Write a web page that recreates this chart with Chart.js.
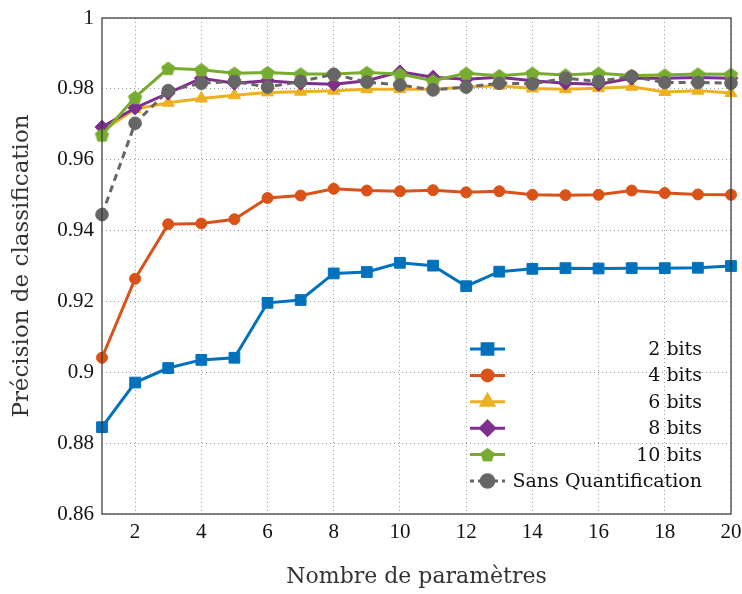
<!DOCTYPE html>
<html>
<head>
<meta charset="utf-8">
<script src="https://cdn.jsdelivr.net/npm/chart.js@4/dist/chart.umd.min.js"></script>
<style>
  html, body { margin: 0; padding: 0; background: #fff; }
  #wrap { width: 742px; height: 594px; }
</style>
</head>
<body>
<div id="wrap"><canvas id="chart" width="742" height="594"></canvas></div>
<script>
// données
const params = [1, 2, 3, 4, 5, 6, 7, 8, 9, 10, 11, 12, 13, 14, 15, 16, 17, 18, 19, 20];
const bits2 = [0.8845, 0.8971, 0.9012, 0.9035, 0.9041, 0.9196, 0.9204, 0.9279, 0.9283, 0.9309,
               0.9301, 0.9243, 0.9284, 0.9292, 0.9294, 0.9293, 0.9294, 0.9294, 0.9295, 0.9300];
const bits4 = [0.9041, 0.9264, 0.9418, 0.9420, 0.9432, 0.9492, 0.9499, 0.9518, 0.9513, 0.9511,
               0.9514, 0.9508, 0.9511, 0.9501, 0.9500, 0.9501, 0.9513, 0.9506, 0.9502, 0.9501];
const bits6 = [0.9680, 0.9743, 0.9761, 0.9773, 0.9782, 0.9790, 0.9792, 0.9795, 0.9799, 0.9799,
               0.9799, 0.9805, 0.9809, 0.9801, 0.9799, 0.9802, 0.9806, 0.9791, 0.9795, 0.9788];
const bits8 = [0.9692, 0.9746, 0.9788, 0.9830, 0.9816, 0.9823, 0.9816, 0.9813, 0.9823, 0.9848,
               0.9833, 0.9827, 0.9833, 0.9823, 0.9816, 0.9813, 0.9830, 0.9830, 0.9832, 0.9830];
const bits10 = [0.9670, 0.9776, 0.9858, 0.9854, 0.9844, 0.9846, 0.9842, 0.9842, 0.9846, 0.9842,
                0.9823, 0.9844, 0.9837, 0.9844, 0.9839, 0.9844, 0.9838, 0.9839, 0.9842, 0.9841];
const sansQuant = [0.9445, 0.9703, 0.9795, 0.9816, 0.9821, 0.9805, 0.9821, 0.9841, 0.9819, 0.9811,
                   0.9797, 0.9805, 0.9816, 0.9814, 0.9830, 0.9821, 0.9835, 0.9818, 0.9818, 0.9816];
const seriesNames = ["2 bits", "4 bits", "6 bits", "8 bits", "10 bits", "Sans Quantification"];
const xTicks = [2, 4, 6, 8, 10, 12, 14, 16, 18, 20];
const yTicks = [0.86, 0.88, 0.9, 0.92, 0.94, 0.96, 0.98, 1];
const yTickLabels = ["0.86", "0.88", "0.9", "0.92", "0.94", "0.96", "0.98", "1"];

const FONT = "'Liberation Serif', 'DejaVu Serif', serif";
const FONT2 = "'DejaVu Serif', 'Liberation Serif', serif";

// marqueur pentagone (pas disponible dans Chart.js)
function makePentagon(color, r) {
  const c = document.createElement('canvas');
  const s = Math.ceil(r * 2 + 2);
  c.width = s; c.height = s;
  const g = c.getContext('2d');
  g.fillStyle = color;
  g.beginPath();
  for (let i = 0; i < 5; i++) {
    const a = -Math.PI / 2 + i * 2 * Math.PI / 5;
    const px = s / 2 + r * Math.cos(a), py = s / 2 + r * Math.sin(a) + 0.8;
    if (i === 0) g.moveTo(px, py); else g.lineTo(px, py);
  }
  g.closePath();
  g.fill();
  return c;
}

function serie(i, data, color, style, radius, extra) {
  return Object.assign({
    label: seriesNames[i],
    data: params.map((x, k) => ({ x: x, y: data[k] })),
    borderColor: color,
    backgroundColor: color,
    pointBackgroundColor: color,
    pointBorderColor: color,
    pointStyle: style,
    pointRadius: radius,
    pointHoverRadius: radius,
    pointBorderWidth: 1,
    borderWidth: 3,
    tension: 0,
    clip: false,
    order: 5 - i
  }, extra || {});
}

const datasets = [
  serie(0, bits2, '#0072BD', 'rect', 7.6),
  serie(1, bits4, '#D95319', 'circle', 5.5),
  serie(2, bits6, '#EDB120', 'triangle', 7),
  serie(3, bits8, '#7E2F8E', 'rectRot', 7),
  serie(4, bits10, '#77AC30', makePentagon('#77AC30', 7.5), 7.5),
  serie(5, sansQuant, '#666666', 'circle', 6.3, { borderDash: [7, 5] })
];

// cadre + légende dessinés à la main
const cadrePlugin = {
  id: 'cadre',
  afterDraw(chart) {
    const ctx = chart.ctx, a = chart.chartArea;
    ctx.save();
    ctx.strokeStyle = '#333';
    ctx.lineWidth = 1.2;
    ctx.strokeRect(a.left, a.top, a.right - a.left, a.bottom - a.top);

    // légende
    const x0 = 470, x1 = 505, xt = 702;
    const y0 = 349, dy = 26.4;
    ctx.font = "19px " + FONT2;
    ctx.textAlign = 'right';
    ctx.textBaseline = 'middle';
    chart.data.datasets.forEach((ds, i) => {
      const y = y0 + i * dy;
      ctx.strokeStyle = ds.borderColor;
      ctx.fillStyle = ds.borderColor;
      ctx.lineWidth = ds.borderWidth;
      ctx.setLineDash(ds.borderDash ? [4, 4] : []);
      ctx.beginPath();
      ctx.moveTo(x0, y); ctx.lineTo(x1, y);
      ctx.stroke();
      ctx.setLineDash([]);
      Chart.helpers.drawPoint(ctx, {
        pointStyle: ds.pointStyle, radius: ds.pointRadius, borderWidth: 1, rotation: 0
      }, (x0 + x1) / 2, y);
      ctx.fillStyle = '#111';
      ctx.fillText(ds.label, xt, y + 1);
    });
    ctx.restore();
  }
};

new Chart(document.getElementById('chart'), {
  type: 'line',
  data: { datasets: datasets },
  plugins: [cadrePlugin],
  options: {
    responsive: false,
    animation: false,
    layout: { padding: { top: 18, right: 11, left: 0, bottom: 0 } },
    plugins: { legend: { display: false }, tooltip: { enabled: false } },
    scales: {
      x: {
        type: 'linear',
        min: 1,
        max: 20,
        afterBuildTicks: s => { s.ticks = xTicks.map(v => ({ value: v })); },
        afterFit: s => { s.height = 80; s.paddingRight = 0; s.paddingLeft = 0; },
        grid: { color: '#9a9a9a', lineWidth: 1, drawTicks: false },
        border: { display: false, dash: [1, 3] },
        ticks: { color: '#111', font: { family: FONT, size: 21 }, padding: 6, maxRotation: 0 },
        title: { display: true, text: 'Nombre de paramètres', color: '#333',
                 font: { family: FONT2, size: 22 }, padding: { top: 28 } }
      },
      y: {
        min: 0.86,
        max: 1,
        afterBuildTicks: s => { s.ticks = yTicks.map(v => ({ value: v })); },
        afterFit: s => { s.width = 102; s.paddingTop = 0; s.paddingBottom = 0; },
        grid: { color: '#9a9a9a', lineWidth: 1, drawTicks: false },
        border: { display: false, dash: [1, 3] },
        ticks: {
          color: '#111', font: { family: FONT, size: 21 }, padding: 8,
          callback: v => { const k = yTicks.findIndex(t => Math.abs(t - v) < 1e-9); return k >= 0 ? yTickLabels[k] : ''; }
        },
        title: { display: true, text: 'Précision de classification', color: '#333',
                 font: { family: FONT2, size: 23 }, padding: { bottom: 4, top: 8 } }
      }
    }
  }
});
</script>
</body>
</html>
